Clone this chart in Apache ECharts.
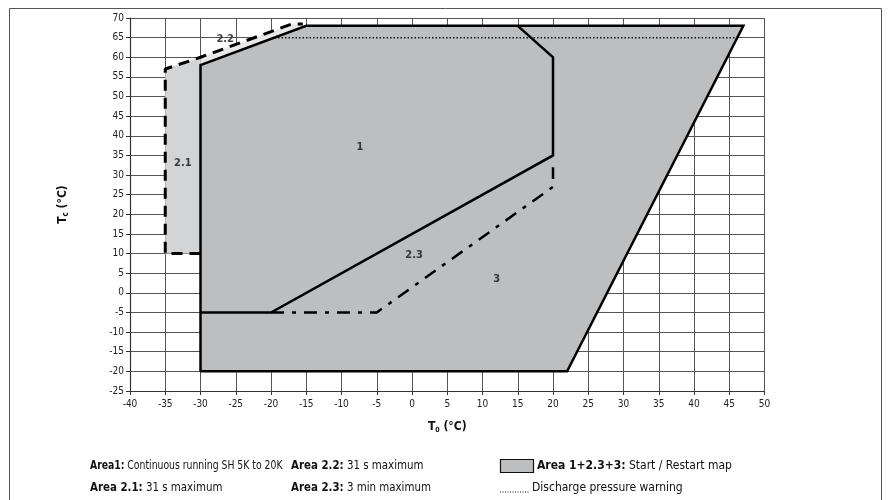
<!DOCTYPE html>
<html>
<head>
<meta charset="utf-8">
<script src="https://cdn.jsdelivr.net/npm/echarts@6/dist/echarts.min.js"></script>
<style>
html,body{margin:0;padding:0;background:#fff;}
#c{width:891px;height:500px;}
</style>
</head>
<body>
<div id="c"></div>
<script>
// ---- data (°C) ----
const xTicks = [-40,-35,-30,-25,-20,-15,-10,-5,0,5,10,15,20,25,30,35,40,45,50];
const yTicks = [-25,-20,-15,-10,-5,0,5,10,15,20,25,30,35,40,45,50,55,60,65,70];
// outer envelope (Area 1+2.3+3)
const area3Outline = [[-30,-20],[22,-20],[47,68],[-15,68],[-30,58],[-30,-20]];
// Area 2.1 (short-time, low evaporating)
const area21Fill = [[-35,10],[-30,10],[-30,60],[-35,57]];
// Area 2.2 (short-time, high condensing)
const area22Fill = [[-30,58],[-30,60],[-17,68.5],[-15,68]];
// dashed boundary of areas 2.1 / 2.2
const dashedBoundary = [[-30,10],[-35,10],[-35,57],[-30,60],[-17,68.5],[-15.5,68.5]];
// Area 1 boundary
const area1Boundary = [[15,68],[20,60],[20,35],[-20,-5],[-30,-5]];
// Area 2.3 boundary (dash-dot)
const area23Boundary = [[-20,-5],[-5,-5],[20,27],[20,32]];
// discharge pressure warning line
const dischargeWarning = [[-19.5,65],[46.2,65]];
// region labels
const regionLabels = [['1',-7.4,37],['2.1',-32.5,33],['2.2',-26.5,64.5],['2.3',0.3,9.5],['3',12,3.6]];
// legend texts
const legendRows = [
  ['Area1:', 'Continuous running SH 5K to 20K'],
  ['Area 2.1:', '31 s maximum'],
  ['Area 2.2:', '31 s maximum'],
  ['Area 2.3:', '3 min maximum'],
  ['Area 1+2.3+3:', 'Start / Restart map']
];
const warningText = 'Discharge pressure warning';

const NARROW = '"Liberation Sans Narrow", "Arial Narrow", "DejaVu Sans Condensed", Lato, sans-serif';
const GRAY = '#bdbec0';

function polySeries(points, color, z){
  return {
    type:'custom', coordinateSystem:'cartesian2d', z:z, silent:true, clip:false,
    data:[[points[0][0], points[0][1]]],
    renderItem:function(params, api){
      return {type:'polygon', shape:{points: points.map(p=>api.coord(p))},
              style:{fill:color, stroke:null}};
    }
  };
}
function lineSeries(points, style, z){
  return {
    type:'line', data:points, z:z, showSymbol:false, symbol:'none', silent:true,
    clip:false, animation:false, lineStyle:style
  };
}
const richLeg = {
  b:{fontFamily:NARROW, fontWeight:'bold', fontSize:12, fill:'#111'},
  n:{fontFamily:NARROW, fontSize:12, fill:'#111'}
};
function legText(i, x, y, sx){
  return {type:'text', x:x, y:y, scaleX:sx, silent:true,
    style:{text:'{b|'+legendRows[i][0]+'} {n|'+legendRows[i][1]+'}', rich:richLeg,
           align:'left', verticalAlign:'middle'}};
}

const chart = echarts.init(document.getElementById('c'), null, {renderer:'canvas'});
const option = {
  animation:false,
  backgroundColor:'#fff',
  grid:{left:130, right:126.5, top:18, bottom:109, containLabel:false},
  xAxis:{
    type:'value', min:-40, max:50, interval:5,
    name:'{b|T}{s|0}{b| (°C)}', nameLocation:'middle', nameGap:29,
    nameTextStyle:{rich:{
      b:{fontFamily:NARROW, fontWeight:'bold', fontSize:12, color:'#111'},
      s:{fontFamily:NARROW, fontWeight:'bold', fontSize:7, color:'#111', padding:[7,0,0,0]}
    }},
    axisLine:{show:true, onZero:false, lineStyle:{color:'#333', width:1.2}},
    axisTick:{show:true, length:4, lineStyle:{color:'#333'}},
    axisLabel:{fontFamily:NARROW, fontSize:10, color:'#222', margin:8},
    splitLine:{show:true, lineStyle:{color:'#555', width:1}}
  },
  yAxis:{
    type:'value', min:-25, max:70, interval:5,
    name:'{b|T}{s|c}{b| (°C)}', nameLocation:'middle', nameGap:60,
    nameTextStyle:{rich:{
      b:{fontFamily:NARROW, fontWeight:'bold', fontSize:12, color:'#111'},
      s:{fontFamily:NARROW, fontWeight:'bold', fontSize:8, color:'#111', padding:[7,0,0,0]}
    }},
    axisLine:{show:true, onZero:false, lineStyle:{color:'#333', width:1.2}},
    axisTick:{show:true, length:4, lineStyle:{color:'#333'}},
    axisLabel:{fontFamily:NARROW, fontSize:10, color:'#222', margin:6},
    splitLine:{show:true, lineStyle:{color:'#555', width:1}}
  },
  series:[
    polySeries(area3Outline, GRAY, 2),
    polySeries(area21Fill, '#d3d4d6', 2),
    polySeries(area22Fill, '#e8e8e8', 2),
    lineSeries(dischargeWarning, {color:'#111', width:1.5, type:[1.5,2]}, 3),
    lineSeries(area3Outline, {color:'#000', width:2.5, join:'miter'}, 4),
    lineSeries(area1Boundary, {color:'#000', width:2.5, join:'miter'}, 4),
    lineSeries(area23Boundary, {color:'#000', width:2.5, type:[13,8,4,8]}, 4),
    lineSeries(dashedBoundary, {color:'#000', width:3, type:[11,7]}, 4),
    {
      type:'scatter', z:6, silent:true, symbolSize:0,
      data:regionLabels.map(r=>({value:[r[1],r[2]], name:r[0]})),
      label:{show:true, position:'inside', formatter:p=>p.name,
        fontFamily:NARROW, fontWeight:'bold', fontSize:11, color:'#111'}
    }
  ],
  graphic:[
    {type:'rect', shape:{x:9.5, y:8.5, width:872, height:520},
     style:{fill:null, stroke:'#555', lineWidth:1}, z:-1, silent:true},
    legText(0, 90, 466, 0.86),
    legText(1, 90, 488, 0.95),
    legText(2, 291, 466, 0.95),
    legText(3, 291, 488, 0.95),
    {type:'rect', shape:{x:500.5, y:459.5, width:33, height:13},
     style:{fill:GRAY, stroke:'#111', lineWidth:1.2}},
    legText(4, 537, 466, 1.0),
    {type:'line', shape:{x1:500, y1:492, x2:530, y2:492},
     style:{stroke:'#111', lineWidth:1.2, lineDash:[1,1.5]}},
    {type:'text', x:532, y:488, scaleX:1.0, silent:true,
     style:{text:warningText, fontFamily:NARROW, fontSize:12, fill:'#111', verticalAlign:'middle'}}
  ]
};
chart.setOption(option);
</script>
</body>
</html>
